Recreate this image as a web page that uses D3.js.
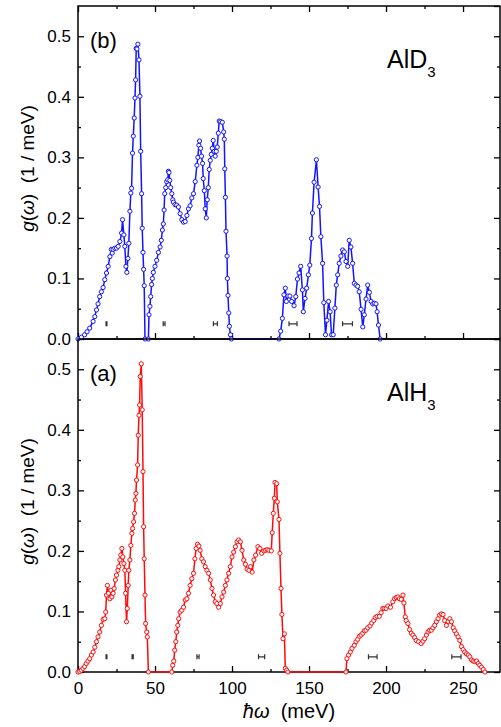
<!DOCTYPE html>
<html lang="en">
<head>
    <meta charset="utf-8">
    <title>Phonon density of states AlD3 / AlH3</title>
    <script src="https://d3js.org/d3.v7.min.js"></script>
    <style>
        body {
            margin: 0;
            padding: 0;
            background: #fff;
            font-family: "Liberation Sans", Arial, sans-serif;
        }
        svg text { white-space: pre; }
        .tick text { font-size: 17px; fill: #000; }
        .tick line { stroke: #000; stroke-width: 1.3px; }
    </style>
</head>
<body>
<svg id="chart" width="501" height="727"></svg>
<script>
    // AlD3 (panel b) - energy (meV) and g(w) (1/meV)
    const energyD = [0, 2.2, 4.3, 5.9, 7.6, 9.8, 10.9, 12.0, 13.0, 14.1, 15.2, 16.3, 17.4, 18.5, 19.6, 20.7, 21.7, 22.2, 22.8, 23.9,
        25.0, 26.1, 27.2, 28.3, 28.9, 29.8, 30.4, 31.1, 31.7, 32.4, 33.0, 33.7, 34.3, 34.8, 35.4, 35.9, 36.5, 37.0, 37.4, 37.8,
        38.3, 38.9, 39.6, 40.2, 40.7, 41.3, 41.7, 42.2, 42.6, 43.0, 43.5, 45.7, 46.1, 46.7, 47.2, 47.8, 48.3, 48.9, 50.0, 51.1,
        52.2, 53.3, 54.1, 54.8, 55.4, 55.9, 56.3, 57.0, 57.6, 58.3, 58.7, 59.1, 59.6, 60.2, 60.9, 61.5, 62.0, 63.0, 64.1, 65.2,
        66.3, 67.4, 68.5, 69.6, 70.7, 71.7, 72.8, 73.9, 75.0, 76.1, 77.2, 77.8, 78.5, 78.9, 79.6, 80.2, 80.9, 81.3, 82.0, 82.6,
        83.3, 83.9, 84.6, 85.2, 85.9, 86.5, 87.2, 87.8, 88.5, 89.1, 89.8, 90.4, 91.1, 91.7, 92.6, 93.7, 94.6, 95.0, 95.3, 95.7,
        96.1, 96.8, 97.0, 97.4, 97.9, 98.3, 99.0, 99.6,
        130.5, 131.6, 132.7, 133.7, 134.6, 135.3, 136.3, 137.6, 138.7, 140.3, 141.4, 142.5, 143.5, 144.6, 145.7, 146.3, 147.4,
        148.5, 149.6, 150.5, 151.6, 152.2, 153.3, 154.8, 155.9, 156.8, 157.7, 158.8, 159.6, 160.7, 161.6, 162.7, 163.7, 164.6,
        165.7, 166.8, 167.7, 168.6, 169.6, 170.7, 171.8, 172.9, 174.0, 175.1, 176.1, 177.2, 178.3, 179.4, 180.5, 181.6, 182.6,
        183.8, 184.9, 185.9, 187.0, 188.1, 189.2, 190.3, 191.4, 192.4, 193.5, 194.2, 195.1, 196.2];
    const gD = [0, 0.003, 0.007, 0.012, 0.018, 0.029, 0.037, 0.048, 0.058, 0.070, 0.078, 0.085, 0.098, 0.109, 0.120, 0.136, 0.148, 0.142, 0.148, 0.150,
        0.150, 0.153, 0.161, 0.175, 0.197, 0.172, 0.153, 0.120, 0.110, 0.133, 0.158, 0.211, 0.241, 0.249, 0.307, 0.335, 0.365, 0.398, 0.428, 0.480,
        0.479, 0.487, 0.461, 0.401, 0.310, 0.240, 0.183, 0.143, 0.115, 0.088, 0, 0, 0.040, 0.054, 0.070, 0.090, 0.100, 0.110, 0.120, 0.130,
        0.143, 0.152, 0.163, 0.180, 0.190, 0.213, 0.240, 0.250, 0.260, 0.263, 0.277, 0.275, 0.262, 0.250, 0.240, 0.230, 0.226, 0.222, 0.221, 0.218,
        0.207, 0.197, 0.193, 0.194, 0.204, 0.215, 0.220, 0.233, 0.240, 0.260, 0.287, 0.300, 0.320, 0.327, 0.315, 0.302, 0.290, 0.265, 0.245, 0.215,
        0.200, 0.230, 0.250, 0.280, 0.295, 0.305, 0.315, 0.328, 0.310, 0.302, 0.310, 0.317, 0.340, 0.360, 0.359, 0.358, 0.342, 0.330, 0.281, 0.234,
        0.178, 0.137, 0.100, 0.072, 0.043, 0.021, 0.007, 0,
        0, 0.013, 0.034, 0.073, 0.084, 0.062, 0.071, 0.071, 0.062, 0.055, 0.070, 0.099, 0.109, 0.120, 0.081, 0.045, 0.067,
        0.084, 0.106, 0.122, 0.166, 0.208, 0.259, 0.296, 0.251, 0.219, 0.169, 0.125, 0.060, 0.007, 0.031, 0.062, 0.045, 0.007,
        0.007, 0.051, 0.089, 0.106, 0.125, 0.137, 0.147, 0.144, 0.128, 0.120, 0.163, 0.152, 0.125, 0.092, 0.089, 0.087, 0.078,
        0.049, 0.020, 0.040, 0.066, 0.089, 0.077, 0.062, 0.058, 0.059, 0.058, 0.045, 0.023, 0];

    // AlH3 (panel a)
    const energyH = [0, 1.1, 2.2, 3.3, 4.3, 5.4, 6.5, 7.6, 8.7, 9.8, 10.9, 12.0, 13.0, 14.1, 15.2, 16.3, 17.4, 18.0, 18.5, 19.1,
        19.8, 20.7, 21.3, 22.0, 22.8, 23.5, 24.3, 25.0, 25.9, 26.5, 27.2, 27.8, 28.5, 29.1, 29.8, 30.4, 30.9, 31.5, 32.0, 32.6,
        33.0, 33.7, 34.3, 35.0, 35.4, 36.1, 36.7, 37.2, 37.6, 38.0, 38.7, 39.1, 39.6, 40.0, 40.4, 41.1, 41.7, 42.2, 42.6, 43.0,
        43.5, 43.9, 44.6, 45.0, 45.7,
        60.9, 61.5, 62.2, 62.8, 63.5, 64.1, 64.8, 65.4, 66.3, 67.4, 68.5, 69.6, 70.7, 71.7, 72.8, 73.9, 75.0, 75.9, 76.7, 77.6,
        78.5, 79.3, 80.4, 81.5, 82.6, 83.7, 84.8, 85.9, 87.0, 88.0, 89.1, 90.2, 91.3, 92.4, 93.5, 94.6, 95.7, 96.7, 97.8, 98.9,
        100.0, 101.1, 102.2, 103.3, 104.3, 105.4, 106.5, 107.6, 108.7, 109.8, 111.0, 112.0, 113.1, 114.2, 115.3, 116.8, 118.1, 119.2, 120.7, 121.8,
        122.9, 123.9, 125.5, 126.1, 126.8, 127.5, 127.9, 129.0, 129.4, 130.5, 131.1, 131.8, 132.4, 133.1, 134.0, 134.6, 135.5, 136.3,
        174.0, 174.6, 175.7, 176.8, 177.9, 179.4, 180.5, 181.6, 182.7, 183.8, 184.9, 185.9, 187.0, 188.1, 189.6, 190.7, 192.0, 193.1,
        194.2, 195.7, 196.8, 197.9, 199.0, 200.1, 201.2, 202.9, 204.4, 205.5, 206.6, 207.7, 208.7, 209.9, 211.0, 211.6, 212.5, 213.1,
        214.2, 215.3, 216.4, 217.5, 218.5, 219.6, 221.1, 222.9, 224.0, 225.1, 226.2, 227.3, 228.3, 229.4, 230.5, 231.6, 232.7, 233.8,
        234.8, 235.9, 237.0, 238.1, 239.2, 240.3, 241.4, 242.5, 243.6, 244.6, 245.7, 246.8, 247.9, 249.0, 250.1, 251.1, 252.2, 253.4,
        254.4, 255.5, 256.6, 257.7, 258.8, 259.9, 260.9, 262.0, 263.2, 264.2];
    const gH = [0, 0.001, 0.003, 0.006, 0.009, 0.014, 0.018, 0.022, 0.028, 0.033, 0.041, 0.050, 0.058, 0.066, 0.077, 0.087, 0.088, 0.099, 0.127, 0.143,
        0.130, 0.121, 0.135, 0.124, 0.130, 0.138, 0.152, 0.160, 0.168, 0.174, 0.185, 0.193, 0.204, 0.190, 0.179, 0.168, 0.130, 0.083, 0.105, 0.143,
        0.168, 0.185, 0.209, 0.229, 0.237, 0.248, 0.262, 0.284, 0.295, 0.317, 0.342, 0.391, 0.424, 0.441, 0.488, 0.509, 0.433, 0.331, 0.240, 0.187,
        0.127, 0.080, 0.066, 0.058, 0,
        0, 0.011, 0.018, 0.036, 0.050, 0.066, 0.077, 0.088, 0.099, 0.102, 0.107, 0.119, 0.121, 0.130, 0.143, 0.154, 0.163, 0.187, 0.204, 0.211,
        0.208, 0.201, 0.187, 0.182, 0.174, 0.168, 0.163, 0.152, 0.138, 0.127, 0.116, 0.113, 0.107, 0.113, 0.124, 0.132, 0.143, 0.152, 0.163, 0.174,
        0.190, 0.198, 0.207, 0.215, 0.218, 0.215, 0.201, 0.185, 0.178, 0.170, 0.168, 0.174, 0.165, 0.185, 0.193, 0.207, 0.204, 0.196, 0.200, 0.201,
        0.202, 0.201, 0.200, 0.230, 0.262, 0.287, 0.313, 0.311, 0.281, 0.252, 0.196, 0.138, 0.095, 0.055, 0.063, 0.006, 0.003, 0,
        0, 0.022, 0.028, 0.033, 0.039, 0.044, 0.050, 0.054, 0.059, 0.061, 0.064, 0.068, 0.069, 0.073, 0.076, 0.081, 0.085, 0.090,
        0.092, 0.092, 0.098, 0.105, 0.105, 0.105, 0.109, 0.107, 0.116, 0.121, 0.123, 0.124, 0.121, 0.120, 0.127, 0.114, 0.091, 0.085,
        0.080, 0.070, 0.064, 0.061, 0.057, 0.052, 0.050, 0.047, 0.051, 0.055, 0.061, 0.066, 0.069, 0.069, 0.073, 0.077, 0.083, 0.088,
        0.094, 0.096, 0.095, 0.085, 0.077, 0.083, 0.088, 0.083, 0.073, 0.068, 0.063, 0.058, 0.052, 0.042, 0.037, 0.033, 0.030, 0.028,
        0.025, 0.020, 0.018, 0.017, 0.018, 0.014, 0.011, 0.008, 0.004, 0];

    // instrumental resolution bars (centre, half width in meV)
    const resCentreD = [18.5, 55.9, 89.2, 139.6, 175.0];
    const resHalfD = [0.3, 0.6, 1.3, 2.6, 3.2];
    const resCentreH = [18.5, 35.5, 77.9, 119.2, 191.4, 245.7];
    const resHalfH = [0.3, 0.4, 0.7, 2.0, 2.8, 3.0];
    const resLevel = 0.025;

    const xMajor = [0, 50, 100, 150, 200, 250];
    const xMinor = [25, 75, 125, 175, 225, 275];
    const yMajor = [0, 0.1, 0.2, 0.3, 0.4, 0.5];
    const yMinor = [0.05, 0.15, 0.25, 0.35, 0.45];

    const left = 78, right = 500;
    const svg = d3.select("#chart");

    const x = d3.scaleLinear().domain([0, 274]).range([left, right]);

    const panels = [
        { top: 6, bottom: 339, e: energyD, g: gD, color: "#1414ff", tag: "(b)", name: "AlD", rc: resCentreD, rh: resHalfD, topTicks: true, xLabels: false },
        { top: 339, bottom: 672, e: energyH, g: gH, color: "#ff0a0a", tag: "(a)", name: "AlH", rc: resCentreH, rh: resHalfH, topTicks: false, xLabels: true }
    ];

    panels.forEach(p => {
        const y = d3.scaleLinear().domain([0, 0.55]).range([p.bottom, p.top]);
        const g = svg.append("g");

        // ticks, all pointing inward
        const addAxis = (axis, tx, ty) => {
            const a = g.append("g").attr("transform", `translate(${tx},${ty})`).call(axis);
            a.select(".domain").remove();
            return a;
        };
        addAxis(d3.axisLeft(y).tickValues(yMajor).tickSizeInner(-6).tickSizeOuter(0).tickPadding(7).tickFormat(d3.format(".1f")), left, 0);
        addAxis(d3.axisLeft(y).tickValues(yMinor).tickSizeInner(-3).tickSizeOuter(0).tickFormat(""), left, 0);
        addAxis(d3.axisRight(y).tickValues(yMajor.concat([0.55])).tickSizeInner(-6).tickSizeOuter(0).tickFormat(""), right, 0);
        addAxis(d3.axisRight(y).tickValues(yMinor).tickSizeInner(-3).tickSizeOuter(0).tickFormat(""), right, 0);
        addAxis(d3.axisBottom(x).tickValues(xMajor).tickSizeInner(-6).tickSizeOuter(0).tickPadding(10)
            .tickFormat(p.xLabels ? d3.format("d") : ""), 0, p.bottom);
        addAxis(d3.axisBottom(x).tickValues(xMinor.filter(v => v < 274)).tickSizeInner(-3).tickSizeOuter(0).tickFormat(""), 0, p.bottom);
        if (p.topTicks) {
            addAxis(d3.axisTop(x).tickValues(xMajor).tickSizeInner(-6).tickSizeOuter(0).tickFormat(""), 0, p.top);
            addAxis(d3.axisTop(x).tickValues(xMinor.filter(v => v < 274)).tickSizeInner(-3).tickSizeOuter(0).tickFormat(""), 0, p.top);
        }

        g.append("rect")
            .attr("x", left).attr("y", p.top)
            .attr("width", right - left).attr("height", p.bottom - p.top)
            .attr("fill", "none").attr("stroke", "#000").attr("stroke-width", 1.5);

        // resolution bars
        const res = g.append("g").attr("stroke", "#333").attr("stroke-width", 1.2).attr("fill", "none");
        p.rc.forEach((c, i) => {
            const yy = y(resLevel), x0 = x(c - p.rh[i]), x1 = x(c + p.rh[i]);
            res.append("path").attr("d", `M${x0},${yy - 2.5}V${yy + 2.5}M${x1},${yy - 2.5}V${yy + 2.5}M${x0},${yy}H${x1}`);
        });

        const pts = p.e.map((e, i) => [e, p.g[i]]);
        const line = d3.line().x(d => x(d[0])).y(d => y(d[1]));
        g.append("path")
            .datum(pts)
            .attr("d", line)
            .attr("fill", "none")
            .attr("stroke", p.color)
            .attr("stroke-width", 1.5);

        g.selectAll("circle.pt")
            .data(pts)
            .join("circle")
            .attr("class", "pt")
            .attr("cx", d => x(d[0]))
            .attr("cy", d => y(d[1]))
            .attr("r", 2.1)
            .attr("fill", "#fff")
            .attr("stroke", p.color)
            .attr("stroke-width", 1);

        g.append("text")
            .attr("x", 90).attr("y", p.top + 42)
            .attr("font-size", 22)
            .text(p.tag);

        const nm = g.append("text")
            .attr("x", 387).attr("y", p.top + 62)
            .attr("font-size", 25);
        nm.append("tspan").text(p.name);
        nm.append("tspan").attr("font-size", 15).attr("dy", 9).text("3");

        const mid = (p.top + p.bottom) / 2 - 4;
        const yl = g.append("text")
            .attr("transform", `translate(34,${mid}) rotate(-90)`)
            .attr("text-anchor", "middle")
            .attr("font-size", 19);
        yl.append("tspan").attr("font-style", "italic").text("g");
        yl.append("tspan").text("(");
        yl.append("tspan").attr("font-style", "italic").text("ω");
        yl.append("tspan").text(")  (1 / meV)");
    });

    const xl = svg.append("text")
        .attr("x", (left + right) / 2).attr("y", 718)
        .attr("text-anchor", "middle")
        .attr("font-size", 20);
    xl.append("tspan").attr("font-style", "italic").text("ħω");
    xl.append("tspan").text("  (meV)");
</script>
</body>
</html>
